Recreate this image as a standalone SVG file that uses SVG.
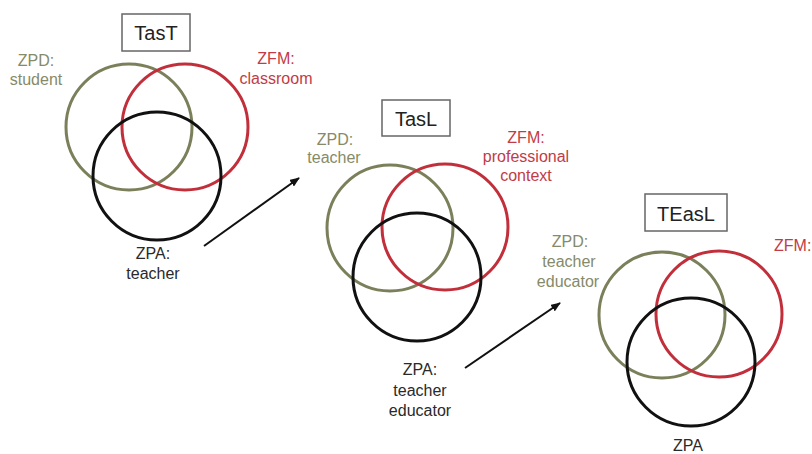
<svg xmlns="http://www.w3.org/2000/svg" width="812" height="454" viewBox="0 0 812 454">
<style>
text{font-family:"Liberation Sans",Arial,sans-serif;font-size:16px;text-anchor:middle}
.t{font-size:20px;fill:#222}
.box{fill:#fff;stroke:#666;stroke-width:1.5}
.o{fill:none;stroke:#7b805b;stroke-width:3}
.r{fill:none;stroke:#c12f3b;stroke-width:3}
.k{fill:none;stroke:#111;stroke-width:3}
.ot{fill:#868a68}
.rt{fill:#c23b46}
.kt{fill:#2a2a2a}
.arr{stroke:#111;stroke-width:2;fill:none;marker-end:url(#ah)}
</style>
<defs>
<marker id="ah" markerWidth="10" markerHeight="8" refX="9" refY="4" orient="auto" markerUnits="userSpaceOnUse">
<path d="M0,0 L10,4 L0,8 Z" fill="#111"/>
</marker>
</defs>
<rect width="812" height="454" fill="#fff"/>
<g id="tasT">
<rect class="box" x="122" y="14" width="68" height="37"/>
<text class="t" x="156" y="40">TasT</text>
<circle class="o" cx="129" cy="127" r="63"/>
<circle class="r" cx="185" cy="127" r="63"/>
<circle class="k" cx="157" cy="176" r="64"/>
<text class="ot" x="36" y="66">ZPD:</text>
<text class="ot" x="36" y="85">student</text>
<text class="rt" x="276" y="64">ZFM:</text>
<text class="rt" x="276" y="84">classroom</text>
<text class="kt" x="153" y="259">ZPA:</text>
<text class="kt" x="153" y="279">teacher</text>
</g>
<g id="tasL">
<rect class="box" x="382" y="100" width="68" height="36"/>
<text class="t" x="416" y="126">TasL</text>
<circle class="o" cx="390" cy="228" r="63"/>
<circle class="r" cx="445" cy="227" r="63"/>
<circle class="k" cx="417" cy="277" r="64"/>
<text class="ot" x="335" y="145">ZPD:</text>
<text class="ot" x="334" y="163">teacher</text>
<text class="rt" x="526" y="143">ZFM:</text>
<text class="rt" x="526" y="162">professional</text>
<text class="rt" x="526" y="181">context</text>
<text class="kt" x="420" y="375">ZPA:</text>
<text class="kt" x="420" y="396">teacher</text>
<text class="kt" x="420" y="416">educator</text>
</g>
<g id="teasL">
<rect class="box" x="645" y="194" width="82" height="37"/>
<text class="t" x="686" y="221">TEasL</text>
<circle class="o" cx="662" cy="315" r="63"/>
<circle class="r" cx="719" cy="314" r="63"/>
<circle class="k" cx="691" cy="362" r="64"/>
<text class="ot" x="570" y="247">ZPD:</text>
<text class="ot" x="569" y="267">teacher</text>
<text class="ot" x="568" y="287">educator</text>
<text class="rt" x="774" y="251" style="text-anchor:start">ZFM:</text>
<text class="kt" x="688" y="451">ZPA</text>
</g>
<g id="connectors">
<line class="arr" x1="204" y1="246" x2="299" y2="178"/>
<line class="arr" x1="465" y1="368" x2="560" y2="303"/>
</g>
</svg>
